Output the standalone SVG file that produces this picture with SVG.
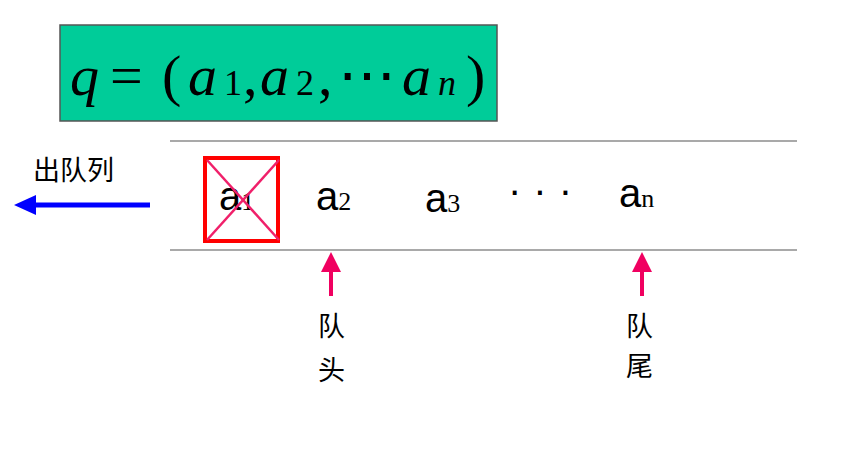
<svg xmlns="http://www.w3.org/2000/svg" width="844" height="461" viewBox="0 0 844 461">
<style>
.f{font-family:"Liberation Serif",serif;fill:#000}
.cj{font-family:"Noto Sans CJK SC","Noto Sans CJK JP",sans-serif;font-size:27px;fill:#000}
.a{font-family:"Liberation Sans",sans-serif;font-size:40px}
.s{font-family:"Liberation Serif",serif;font-size:26px}
.ln{stroke:#555;stroke-width:1.2}
.up{stroke:#f00060;stroke-width:4}
</style>
<defs>
<marker id="pk" markerWidth="5" markerHeight="5" refX="2.5" refY="2.5" orient="auto" markerUnits="strokeWidth"><path d="M0,0 L5,2.5 L0,5 z" fill="#f00060"/></marker>
</defs>
<g id="formula">
<rect x="60" y="25" width="437" height="96" fill="#00cc99" stroke="#555" stroke-width="1.5"/>
<text class="f" y="95" font-size="58"><tspan x="70" font-style="italic">q</tspan><tspan x="110">=</tspan><tspan x="162">(</tspan><tspan x="188" font-style="italic">a</tspan><tspan x="224" font-size="36">1</tspan><tspan x="243">,</tspan><tspan x="260" font-style="italic">a</tspan><tspan x="296" font-size="36">2</tspan><tspan x="318">,</tspan><tspan x="338">⋯</tspan><tspan x="402" font-style="italic">a</tspan><tspan x="438" font-size="36" font-style="italic">n</tspan><tspan x="466">)</tspan></text>
</g>
<g id="queue">
<line class="ln" x1="170" y1="141" x2="797" y2="141"/>
<line class="ln" x1="170" y1="250" x2="797" y2="250"/>
<text class="a" x="219" y="210">a<tspan class="s">1</tspan></text>
<text class="a" x="316" y="210">a<tspan class="s">2</tspan></text>
<text class="a" x="425" y="212">a<tspan class="s">3</tspan></text>
<text class="a" x="508" y="204" letter-spacing="12">···</text>
<text class="a" x="619" y="207">a<tspan class="s">n</tspan></text>
</g>
<g id="removed">
<rect x="205" y="158" width="73" height="83" fill="none" stroke="#f00" stroke-width="4"/>
<line x1="207" y1="160" x2="279" y2="240" stroke="#f0206a" stroke-width="2.5"/>
<line x1="279" y1="160" x2="207" y2="240" stroke="#f0206a" stroke-width="2.5"/>
</g>
<g id="dequeue">
<text class="cj" x="33" y="180">出队列</text>
</g>
<g id="head"><text class="cj" x="318" y="336">队</text><text class="cj" x="318" y="380">头</text></g>
<g id="tail"><text class="cj" x="626" y="336">队</text><text class="cj" x="626" y="376">尾</text></g>
<g id="connectors">
<line x1="150" y1="205" x2="35" y2="205" stroke="#0000ff" stroke-width="5"/>
<path d="M14,205 L36,195 L36,215 z" fill="#0000ff"/>
<line class="up" x1="331" y1="296" x2="331" y2="262" marker-end="url(#pk)"/>
<line class="up" x1="642" y1="296" x2="642" y2="262" marker-end="url(#pk)"/>
</g>
</svg>
